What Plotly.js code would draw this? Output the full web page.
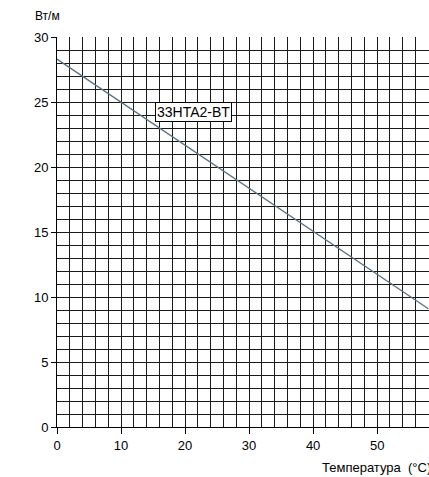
<!DOCTYPE html>
<html>
<head>
<meta charset="utf-8">
<script src="https://cdn.plot.ly/plotly-3.0.1.min.js"></script>
<style>html,body{margin:0;padding:0;background:#fff;}#chart{width:429px;height:477px;}</style>
</head>
<body>
<div id="chart"></div>
<script>
const temperature = [0, 58];
const power = [28.3, 9.1];
const seriesName = "33HTA2-BT";
const xTicks = [0, 10, 20, 30, 40, 50];
const yTicks = [0, 5, 10, 15, 20, 25, 30];
const yUnit = "Вт/м";
const xLabel = "Температура\u00a0\u00a0(°C)";

const font = {family: "Liberation Sans, Arial, sans-serif", size: 13, color: "#000"};
const gridCol = "#1a1a1a";

Plotly.newPlot("chart", [{
  x: temperature, y: power, mode: "lines", type: "scatter",
  line: {color: "#5b7282", width: 1.3}, hoverinfo: "skip", showlegend: false
}], {
  width: 429, height: 477,
  margin: {l: 57, r: 0, t: 37, b: 50},
  paper_bgcolor: "#fff", plot_bgcolor: "#fff",
  font: font,
  xaxis: {
    range: [0, 58.1], tickvals: xTicks, ticktext: xTicks.map(String),
    showgrid: true, gridcolor: gridCol, gridwidth: 1,
    minor: {dtick: 2, tick0: 0, showgrid: true, gridcolor: gridCol, gridwidth: 1},
    ticks: "outside", ticklen: 6, tickcolor: "#000", tickwidth: 1,
    showline: true, linecolor: "#000", linewidth: 1,
    zeroline: false, tickfont: font, fixedrange: true
  },
  yaxis: {
    range: [0, 30], tickvals: yTicks, ticktext: yTicks.map(String),
    showgrid: true, gridcolor: gridCol, gridwidth: 1,
    minor: {dtick: 1, tick0: 0, showgrid: true, gridcolor: gridCol, gridwidth: 1},
    ticks: "outside", ticklen: 5, tickcolor: "#000", tickwidth: 1,
    showline: true, linecolor: "#000", linewidth: 1,
    zeroline: false, tickfont: font, fixedrange: true
  },
  annotations: [
    {text: seriesName, x: 21.25, y: 24.2, xref: "x", yref: "y", showarrow: false,
     font: {family: "Liberation Sans, Arial, sans-serif", size: 14, color: "#000"},
     bgcolor: "#fff", bordercolor: "#000", borderwidth: 1, borderpad: 1},
    {text: yUnit, xref: "paper", yref: "paper", x: -0.065, y: 1.055, xanchor: "left", yanchor: "middle",
     showarrow: false, font: {family: "Liberation Sans, Arial, sans-serif", size: 12, color: "#000"}},
    {text: xLabel, xref: "paper", yref: "paper", x: (320 - 57) / 372, y: -0.103, xanchor: "left", yanchor: "middle",
     showarrow: false, font: font}
  ]
}, {displayModeBar: false, staticPlot: true});
</script>
</body>
</html>
